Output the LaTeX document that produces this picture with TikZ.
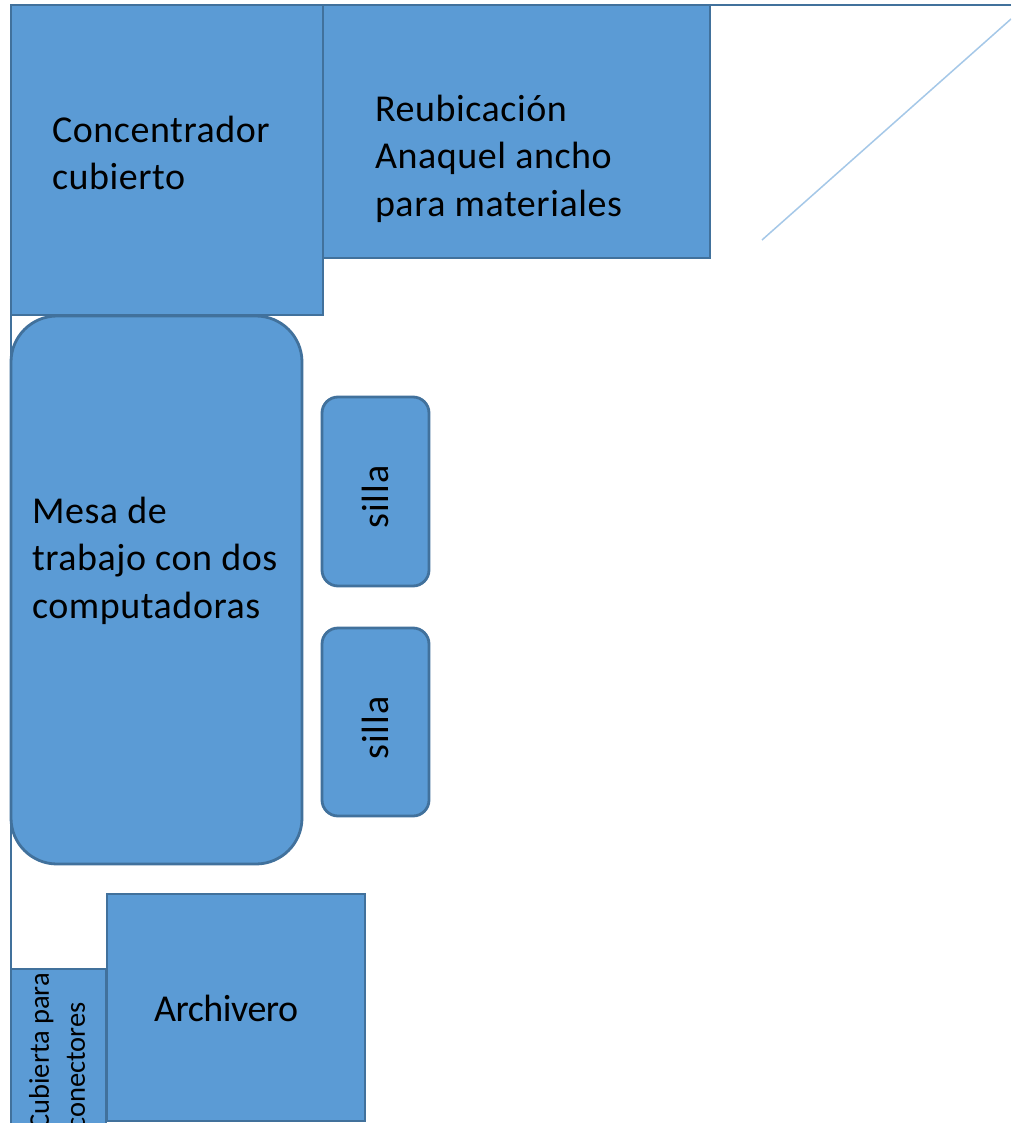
\documentclass[tikz,border=0pt]{standalone}
\usepackage{fontspec}
\setmainfont{Carlito}
\newfontfamily\widefont[LetterSpace=1.5]{Carlito}
\newfontfamily\tightfont[LetterSpace=-1.2]{Carlito}
\newfontfamily\sillafont[LetterSpace=3]{Carlito}
\definecolor{boxfill}{HTML}{5B9BD5}
\definecolor{boxline}{HTML}{41719C}
\definecolor{thinline}{HTML}{A5C8E8}
\tikzset{
  x=1pt,y=-1pt,
  shapebox/.style={draw=boxline,fill=boxfill,line width=2.8pt,inner sep=0pt,outer sep=0pt,anchor=north west},
  wall/.style={draw=boxline,line width=2.8pt},
  caption/.style={inner sep=0pt,outer sep=0pt,align=left,anchor=north west,text=black,font=\fontsize{38}{47.5}\widefont},
  sillacap/.style={inner sep=0pt,text=black,font=\fontsize{38}{47.5}\sillafont,rotate=90},
  smallcap/.style={inner sep=0pt,outer sep=0pt,align=left,text=black,font=\fontsize{28.5}{36}\selectfont,rotate=90}
}
\begin{document}
\begin{tikzpicture}
\useasboundingbox (0,0) rectangle (1011,1123);
\clip (0,0) rectangle (1011,1123);
\fill[white] (0,0) rectangle (1011,1123);
\coordinate (wallTL) at (11,5);
\coordinate (wallTR) at (1011,5);
\coordinate (wallBL) at (11,1123);
\draw[wall] (wallTR) -- (wallTL) -- (wallBL);
\coordinate (diagA) at (762,240);
\coordinate (diagB) at (1011,19);
\draw[thinline,line width=1.5pt] (diagA) -- (diagB);
\node[shapebox,minimum width=387pt,minimum height=253pt] (anaquel) at (323,5) {};
\node[shapebox,minimum width=312pt,minimum height=310pt] (concentrador) at (11,5) {};
\node[shapebox,rounded corners=46pt,minimum width=291pt,minimum height=548pt] (mesa) at (11,316) {};
\node[shapebox,rounded corners=16pt,minimum width=107pt,minimum height=189pt] (silla1) at (322,397) {};
\node[shapebox,rounded corners=16pt,minimum width=107pt,minimum height=188pt] (silla2) at (322,628) {};
\node[shapebox,minimum width=95pt,minimum height=170pt] (cubierta) at (11,969) {};
\node[shapebox,minimum width=258pt,minimum height=227pt] (archivero) at (107,894) {};
\node[caption] (t1) at (52,116) {Concentrador\\cubierto};
\node[caption] (t2) at (375,95) {Reubicación\\Anaquel ancho\\para materiales};
\node[caption] (t3) at (32,497) {Mesa de\\trabajo con dos\\computadoras};
\node[caption,font=\fontsize{38}{47.5}\tightfont] (t4) at (154,995) {Archivero};
\node[sillacap] (t5) at (375,497) {silla};
\node[sillacap] (t6) at (375,728) {silla};
\node[smallcap,anchor=north east] (t7) at (29,973) {Cubierta para\\conectores};
\end{tikzpicture}
\end{document}
